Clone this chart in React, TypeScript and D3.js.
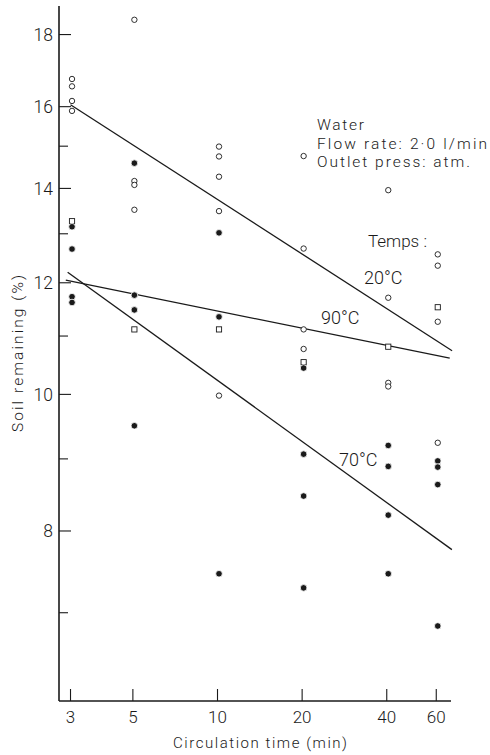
import React from "react";
import * as d3 from "d3";

// Circulation time (min) for each column of points
const times = [3, 5, 10, 20, 40, 60];

// Open circles (per column)
const openPoints: [number, number][] = [
  [3, 16.74], [3, 16.54], [3, 16.15], [3, 15.89],
  [5, 18.44], [5, 14.17], [5, 14.08], [5, 13.52],
  [10, 14.99], [10, 14.75], [10, 14.27], [10, 13.49], [10, 9.98],
  [20, 14.76], [20, 12.69], [20, 11.12], [20, 10.77],
  [40, 13.96], [40, 11.71], [40, 10.19], [40, 10.13],
  [60, 12.57], [60, 12.34], [60, 11.26], [60, 9.24],
];

// Filled circles
const filledPoints: [number, number][] = [
  [3, 13.15], [3, 12.68], [3, 11.73], [3, 11.62],
  [5, 14.59], [5, 11.76], [5, 11.48], [5, 9.5],
  [10, 13.02], [10, 11.35], [10, 7.46],
  [20, 10.44], [20, 9.07], [20, 8.47], [20, 7.29],
  [40, 9.2], [40, 8.89], [40, 8.21], [40, 7.46],
  [60, 8.97], [60, 8.88], [60, 8.63], [60, 6.85],
];

// Open squares
const squarePoints: [number, number][] = [
  [3, 13.27], [5, 11.12], [10, 11.12], [20, 10.54], [40, 10.81], [60, 11.53],
];

// Fitted lines (endpoints in data units)
const fitLabels = ["20°C", "90°C", "70°C"];
const fitStart: [number, number][] = [[3.0, 16.05], [2.886, 12.05], [2.93, 12.21]];
const fitEnd: [number, number][] = [[68.3, 10.74], [67.0, 10.61], [68.2, 7.76]];

const yMajorTicks = [8, 10, 12, 14, 16, 18];
const yMinorTicks = [7, 9, 11, 13, 15];
const xDomain: [number, number] = [2.73, 67.7];
const yDomain: [number, number] = [6.06, 18.86];

const annotation = ["Water", "Flow rate: 2·0 l/min", "Outlet press: atm."];
const annotationWidths = [47, 170, 153];

export default function App() {
  const W = 490, H = 755;
  const x = d3.scaleLog().domain(xDomain).range([59, 451]);
  const y = d3.scaleLog().domain(yDomain).range([701, 6]);
  const font = "Roboto, 'Open Sans', sans-serif";
  const ink = "#1a1a1a";
  const lineGen = d3.line<[number, number]>().x(d => x(d[0])).y(d => y(d[1]));

  return (
    <svg width={W} height={H} style={{ position: "absolute", left: 0, top: 0, background: "#fff" }}
      fontFamily={font} fontWeight={300} fill={ink}>
      <rect width={W} height={H} fill="#fff" />
      {/* axes */}
      <line x1={x(xDomain[0])} x2={x(xDomain[0])} y1={y(yDomain[1])} y2={y(yDomain[0])} stroke={ink} strokeWidth={1.6} />
      <line x1={x(xDomain[0])} x2={x(xDomain[1])} y1={y(yDomain[0])} y2={y(yDomain[0])} stroke={ink} strokeWidth={1.6} />
      {yMajorTicks.map(t => (
        <g key={"ym" + t}>
          <line x1={x(xDomain[0])} x2={x(xDomain[0]) + 12} y1={y(t)} y2={y(t)} stroke={ink} strokeWidth={1.1} />
          <text x={53} y={y(t)} dy="0.36em" textAnchor="end" fontSize={17.5}>{t}</text>
        </g>
      ))}
      {yMinorTicks.map(t => (
        <line key={"yn" + t} x1={x(xDomain[0])} x2={x(xDomain[0]) + 9} y1={y(t)} y2={y(t)} stroke={ink} strokeWidth={1.1} />
      ))}
      {times.map(t => (
        <g key={"xt" + t}>
          <line x1={x(t)} x2={x(t)} y1={y(yDomain[0])} y2={y(yDomain[0]) - 12} stroke={ink} strokeWidth={1.1} />
          <text x={x(t)} y={723} textAnchor="middle" fontSize={17}>{t}</text>
        </g>
      ))}
      <text x={173} y={748} fontSize={15} textLength={174} lengthAdjust="spacing">Circulation time (min)</text>
      <text transform={`translate(23,432) rotate(-90)`} fontSize={15.5} textLength={157} lengthAdjust="spacing">Soil remaining (%)</text>

      {/* fit lines */}
      {fitStart.map((s, i) => (
        <path key={"fit" + i} d={lineGen([s, fitEnd[i]]) || ""} fill="none" stroke={ink} strokeWidth={1.3} />
      ))}

      {/* markers */}
      {openPoints.map((p, i) => (
        <circle key={"o" + i} cx={x(p[0]) + 1.5} cy={y(p[1])} r={2.7} fill="#fff" stroke={ink} strokeWidth={0.9} />
      ))}
      {squarePoints.map((p, i) => (
        <rect key={"s" + i} x={x(p[0]) + 1.5 - 2.6} y={y(p[1]) - 2.6} width={5.2} height={5.2} fill="#fff" stroke={ink} strokeWidth={0.9} />
      ))}
      {filledPoints.map((p, i) => (
        <circle key={"f" + i} cx={x(p[0]) + 1.5} cy={y(p[1])} r={3.3} fill={ink} stroke="#fff" strokeWidth={0.8} />
      ))}

      {/* annotations */}
      {annotation.map((a, i) => (
        <text key={"a" + i} x={317} y={130 + i * 18.5} fontSize={15.5}
          textLength={annotationWidths[i]} lengthAdjust="spacing">{a}</text>
      ))}
      <text x={368} y={247} fontSize={17}>Temps :</text>
      <text x={364} y={284} fontSize={18}>{fitLabels[0]}</text>
      <text x={321} y={324} fontSize={18}>{fitLabels[1]}</text>
      <text x={339} y={466} fontSize={18}>{fitLabels[2]}</text>
    </svg>
  );
}
